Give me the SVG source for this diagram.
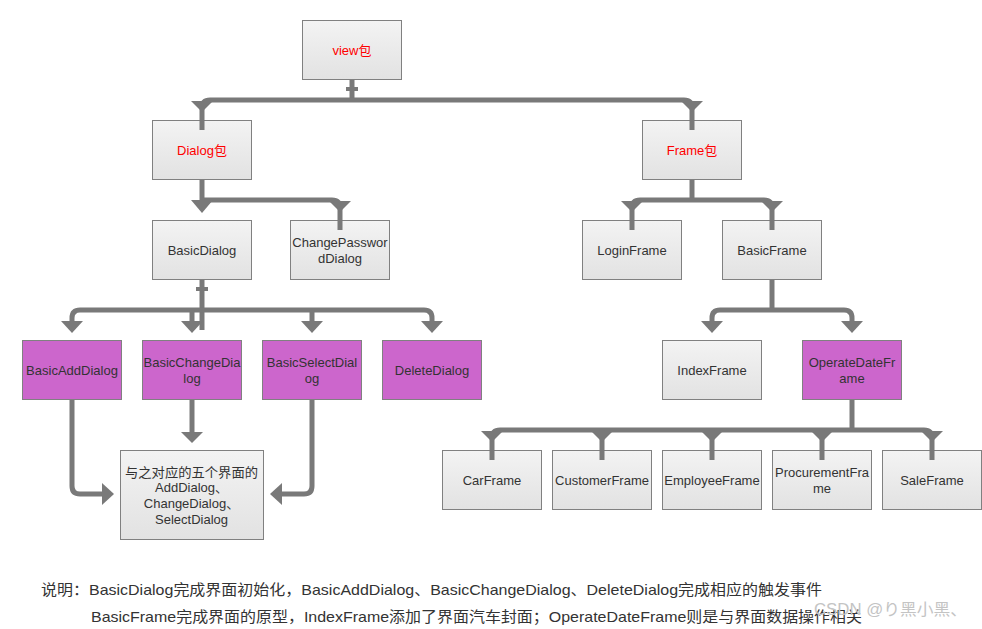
<svg xmlns="http://www.w3.org/2000/svg" width="982" height="629" viewBox="0 0 982 629">
<defs>
<linearGradient id="g" x1="0" y1="0" x2="0" y2="1">
<stop offset="0" stop-color="#f3f3f3"/>
<stop offset="1" stop-color="#e2e2e2"/>
</linearGradient>
<style>
.box{fill:url(#g);stroke:#808080;stroke-width:1}
.pbox{fill:#cc66cc;stroke:#808080;stroke-width:1}
text{font-family:"Liberation Sans","Noto Sans CJK SC",sans-serif;font-size:13px;fill:#333;text-anchor:middle}
.red{fill:#ff0000}
.ln{fill:none;stroke:#797979;stroke-width:5}
.ah{fill:#797979}
.note{font-size:15px;text-anchor:start;fill:#333}
.wm{font-size:16px;text-anchor:start;fill:#c4c4c4}
</style>
</defs>
<rect width="982" height="629" fill="#fff"/>

<g id="view"><rect class="box" x="302.5" y="20.5" width="99" height="59"/><text class="red" x="352" y="55">view包</text></g>
<g id="dialogPkg"><rect class="box" x="152.5" y="120.5" width="99" height="59"/><text class="red" x="202" y="155">Dialog包</text></g>
<g id="framePkg"><rect class="box" x="642.5" y="120.5" width="99" height="59"/><text class="red" x="692" y="155">Frame包</text></g>
<g id="basicDialog"><rect class="box" x="152.5" y="220.5" width="99" height="59"/><text x="202" y="255">BasicDialog</text></g>
<g id="changePasswordDialog"><rect class="box" x="290.5" y="220.5" width="99" height="59"/><text x="340" y="247">ChangePasswor</text><text x="340" y="263">dDialog</text></g>
<g id="loginFrame"><rect class="box" x="582.5" y="220.5" width="99" height="59"/><text x="632" y="255">LoginFrame</text></g>
<g id="basicFrame"><rect class="box" x="722.5" y="220.5" width="99" height="59"/><text x="772" y="255">BasicFrame</text></g>
<g id="basicAddDialog"><rect class="pbox" x="22.5" y="340.5" width="99" height="59"/><text x="72" y="375">BasicAddDialog</text></g>
<g id="basicChangeDialog"><rect class="pbox" x="142.5" y="340.5" width="99" height="59"/><text x="192" y="367">BasicChangeDia</text><text x="192" y="383">log</text></g>
<g id="basicSelectDialog"><rect class="pbox" x="262.5" y="340.5" width="99" height="59"/><text x="312" y="367">BasicSelectDial</text><text x="312" y="383">og</text></g>
<g id="deleteDialog"><rect class="pbox" x="382.5" y="340.5" width="99" height="59"/><text x="432" y="375">DeleteDialog</text></g>
<g id="indexFrame"><rect class="box" x="662.5" y="340.5" width="99" height="59"/><text x="712" y="375">IndexFrame</text></g>
<g id="operateDateFrame"><rect class="pbox" x="802.5" y="340.5" width="99" height="59"/><text x="852" y="367">OperateDateFr</text><text x="852" y="383">ame</text></g>
<g id="fiveDialogs"><rect class="box" x="120.5" y="450.5" width="143" height="89"/>
<text x="191.5" y="477" textLength="133" lengthAdjust="spacingAndGlyphs">与之对应的五个界面的</text>
<text x="191.5" y="492">AddDialog、</text>
<text x="191.5" y="508">ChangeDialog、</text>
<text x="191.5" y="524">SelectDialog</text></g>
<g id="carFrame"><rect class="box" x="442.5" y="450.5" width="99" height="59"/><text x="492" y="485">CarFrame</text></g>
<g id="customerFrame"><rect class="box" x="552.5" y="450.5" width="99" height="59"/><text x="602" y="485">CustomerFrame</text></g>
<g id="employeeFrame"><rect class="box" x="662.5" y="450.5" width="99" height="59"/><text x="712" y="485">EmployeeFrame</text></g>
<g id="procurementFrame"><rect class="box" x="772.5" y="450.5" width="99" height="59"/><text x="822" y="477">ProcurementFra</text><text x="822" y="493">me</text></g>
<g id="saleFrame"><rect class="box" x="882.5" y="450.5" width="99" height="59"/><text x="932" y="485">SaleFrame</text></g>

<g id="connectors">
<path class="ln" d="M352,80 V100"/>
<rect class="ah" x="346" y="87" width="12" height="4"/>
<path class="ln" d="M202,130 V108 Q202,100 210,100 H684 Q692,100 692,108 V130"/>
<polygon class="ah" points="191,101 213,101 202,112"/>
<polygon class="ah" points="681,101 703,101 692,112"/>
<path class="ln" d="M202,180 V200"/>
<path class="ln" d="M202,200 H332 Q340,200 340,208 V230"/>
<polygon class="ah" points="191,200 213,200 202,213"/>
<polygon class="ah" points="329,201 351,201 340,212"/>
<path class="ln" d="M692,180 V200"/>
<path class="ln" d="M632,230 V208 Q632,200 640,200 H764 Q772,200 772,208 V230"/>
<polygon class="ah" points="621,201 643,201 632,212"/>
<polygon class="ah" points="761,201 783,201 772,212"/>
<path class="ln" d="M202,280 V330"/>
<rect class="ah" x="196" y="287" width="12" height="4"/>
<path class="ln" d="M72,322 V318 Q72,310 80,310 H424 Q432,310 432,318 V322"/>
<path class="ln" d="M192,310 V322 M312,310 V322"/>
<polygon class="ah" points="61,321 83,321 72,333"/>
<polygon class="ah" points="181,321 203,321 192,333"/>
<polygon class="ah" points="301,321 323,321 312,333"/>
<polygon class="ah" points="421,321 443,321 432,333"/>
<path class="ln" d="M72,400 V486 Q72,494 80,494 H104"/>
<polygon class="ah" points="102,483 102,505 114,494"/>
<path class="ln" d="M192,400 V433"/>
<polygon class="ah" points="181,432 203,432 192,443"/>
<path class="ln" d="M312,400 V486 Q312,494 304,494 H280"/>
<polygon class="ah" points="282,483 282,505 270,494"/>
<path class="ln" d="M772,280 V310"/>
<path class="ln" d="M712,322 V318 Q712,310 720,310 H844 Q852,310 852,318 V322"/>
<polygon class="ah" points="701,321 723,321 712,333"/>
<polygon class="ah" points="841,321 863,321 852,333"/>
<path class="ln" d="M852,400 V430"/>
<path class="ln" d="M492,460 V438 Q492,430 500,430 H924 Q932,430 932,438 V460"/>
<path class="ln" d="M602,430 V460 M712,430 V460 M822,430 V460"/>
<polygon class="ah" points="481,431 503,431 492,442"/>
<polygon class="ah" points="591,431 613,431 602,442"/>
<polygon class="ah" points="701,431 723,431 712,442"/>
<polygon class="ah" points="811,431 833,431 822,442"/>
<polygon class="ah" points="921,431 943,431 932,442"/>
</g>

<text class="note" x="41" y="595" textLength="781" lengthAdjust="spacingAndGlyphs">说明：BasicDialog完成界面初始化，BasicAddDialog、BasicChangeDialog、DeleteDialog完成相应的触发事件</text>
<text class="note" x="91" y="622" textLength="771" lengthAdjust="spacingAndGlyphs">BasicFrame完成界面的原型，IndexFrame添加了界面汽车封面；OperateDateFrame则是与界面数据操作相关</text>
<text class="wm" x="814" y="615" textLength="153" lengthAdjust="spacingAndGlyphs">CSDN @り黑小黑、</text>
</svg>
